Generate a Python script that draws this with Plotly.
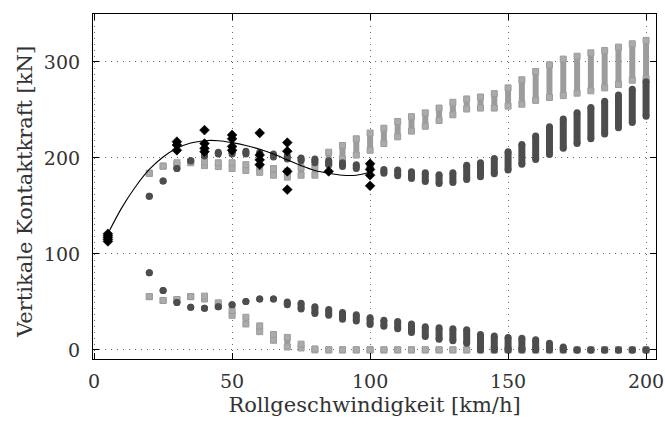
import plotly.graph_objects as go

# ---- data ----
speeds = [20, 25, 30, 35, 40, 45, 50, 55, 60, 65, 70, 75, 80, 85, 90, 95, 100,
          105, 110, 115, 120, 125, 130, 135, 140, 145, 150, 155, 160, 165, 170,
          175, 180, 185, 190, 195, 200]

# dark circles, upper branch (min / max per speed)
dark_up_lo = [160, 176, 189, 197, 202, 204, 204, 204, 203, 201, 199, 197, 195, 193, 191, 189, 188,
              184, 181.5, 178.5, 175.5, 173.5, 174.5, 177.5, 180.5, 183.5, 187.5, 193.5, 198.5,
              203.5, 210, 215, 220, 225, 231.5, 237, 243.5]
dark_up_hi = [160, 176, 189, 197, 204, 206, 207, 207, 206, 204, 202, 200, 199, 197, 195, 193, 191,
              188, 187.5, 185.5, 184.5, 182.5, 184.5, 192.5, 195, 199.5, 206.5, 214, 223,
              232.5, 240.5, 247, 252.5, 259, 265.5, 271.5, 279.5]

# dark circles, lower branch
dark_lo_lo = [80.5, 62, 49.5, 44.5, 43.5, 45, 47, 50.5, 53, 53, 47, 42.5, 38, 36, 32, 30, 26.5,
              24.5, 22, 18, 14, 11, 9.5, 7, 0, 0, 0, 0, 0, 0, 0, 0, 0, 0, 0, 0, 0]
dark_lo_hi = [80.5, 62, 49.5, 44.5, 43.5, 45, 47, 50.5, 53, 53, 50, 48.5, 45, 42, 39, 36.5, 33.5,
              31, 29.5, 27, 24, 23, 22, 21, 16, 14.5, 13, 12, 10.5, 7, 3, 0, 0, 0, 0, 0, 0]

# light squares, upper branch
light_up_lo = [184, 191.5, 193, 195, 192, 191, 189, 187, 185, 182, 180, 182, 182, 194, 199, 203, 208,
               215, 222, 228, 233, 239, 245, 251, 252, 252, 254, 256, 260, 263, 265, 267.5,
               270, 273, 276.5, 281, 282.5]
light_up_hi = [184, 191.5, 195, 196, 196, 195, 195, 193, 191, 189, 186, 190, 190.5, 206, 213, 220, 226,
               231, 238, 243, 247, 252, 258, 261.5, 263.5, 267, 273, 281.5, 290, 297, 303, 306,
               309.5, 312, 315.5, 319, 322.5]

# light squares, lower branch
light_lo_lo = [55.5, 51.5, 52.5, 55.5, 53, 46, 36, 27, 19, 10, 3, 2, 0, 0, 0, 0, 0,
               0, 0, 0, 0, 0, 0, 0, 0, 0, 0, 0, 0, 0, 0, 0, 0, 0, 0, 0, 0]
light_lo_hi = [55.5, 51.5, 52.5, 55.5, 56, 49, 41, 34, 25, 16, 13, 6, 1, 0, 0, 0, 0,
               0, 0, 0, 0, 0, 0, 0, 0, 0, 0, 0, 0, 0, 0, 0, 0, 0, 0, 0, 0]

# measurements (black diamonds)
meas_x = [5, 5, 5, 5, 5, 30, 30, 30, 40, 40, 40, 40, 50, 50, 50, 50,
          60, 60, 60, 60, 70, 70, 70, 70, 85, 100, 100, 100, 100]
meas_y = [113, 115, 117, 119, 121, 208, 213.5, 217, 206.5, 210, 215, 229, 208, 212, 220, 224,
          193, 198, 203, 226, 167, 186, 207, 216, 186, 171, 182, 188, 194]

# fitted curve
fit_x = [5, 10, 15, 20, 25, 30, 35, 40, 45, 50, 55, 60, 65, 70, 75, 80, 85, 90, 95, 100]
fit_y = [121, 148, 170, 188, 201, 210, 215.5, 218, 218, 216, 213, 209, 204, 198, 192, 187,
         184, 182, 182, 185]

x_title = "Rollgeschwindigkeit [km/h]"
y_title = "Vertikale Kontaktkraft [kN]"


def capsules(xs, lo, hi):
    X, Y = [], []
    for s, a, b in zip(xs, lo, hi):
        X += [s, s, None]
        Y += [a, b, None]
    return X, Y


fig = go.Figure()

LIGHT = "#9c9c9c"
DARK = "#4d4d4d"

for lo, hi in [(light_up_lo, light_up_hi), (light_lo_lo, light_lo_hi)]:
    X, Y = capsules(speeds, lo, hi)
    fig.add_trace(go.Scatter(
        x=X, y=Y, mode="lines+markers", connectgaps=False,
        line=dict(color=LIGHT, width=6),
        marker=dict(symbol="square", size=6, color="#ababab",
                    line=dict(color=LIGHT, width=1)),
        showlegend=False, hoverinfo="skip"))

for lo, hi in [(dark_up_lo, dark_up_hi), (dark_lo_lo, dark_lo_hi)]:
    X, Y = capsules(speeds, lo, hi)
    fig.add_trace(go.Scatter(
        x=X, y=Y, mode="lines+markers", connectgaps=False,
        line=dict(color=DARK, width=7),
        marker=dict(symbol="circle", size=7, color=DARK, line=dict(width=0)),
        showlegend=False, hoverinfo="skip"))

fig.add_trace(go.Scatter(
    x=fit_x, y=fit_y, mode="lines", line=dict(color="black", width=1.1, shape="spline"),
    showlegend=False))

fig.add_trace(go.Scatter(
    x=meas_x, y=meas_y, mode="markers",
    marker=dict(symbol="diamond", size=7.5, color="black", line=dict(width=0.6, color="black")),
    showlegend=False))

FONT = "DejaVu Serif"
TXT = "#333333"
axis_common = dict(
    showline=True, linecolor="black", linewidth=1.2, mirror="ticks",
    ticks="inside", ticklen=6, tickcolor="black", tickwidth=1,
    showgrid=True, gridcolor="#6a6a6a", griddash="1px,5px", gridwidth=1,
    zeroline=False, tickfont=dict(family=FONT, size=19, color=TXT),
)

fig.update_xaxes(range=[-0.4, 203.6], tickvals=[0, 50, 100, 150, 200],
                 title=dict(text=x_title, standoff=6,
                            font=dict(family=FONT, size=21, color=TXT)),
                 ticklabelstandoff=5, **axis_common)
fig.update_yaxes(range=[-9.5, 350], tickvals=[0, 100, 200, 300],
                 ticklabelstandoff=8, **axis_common)

fig.add_annotation(text=y_title, xref="paper", yref="paper",
                   x=-0.121, y=0.484, xanchor="center", yanchor="middle",
                   textangle=-90, showarrow=False,
                   font=dict(family=FONT, size=21, color=TXT))

fig.update_layout(
    width=665, height=425,
    margin=dict(l=93, r=9, t=14, b=66, autoexpand=False),
    plot_bgcolor="white", paper_bgcolor="white",
    font=dict(family=FONT),
)

fig.write_html("out.html")
